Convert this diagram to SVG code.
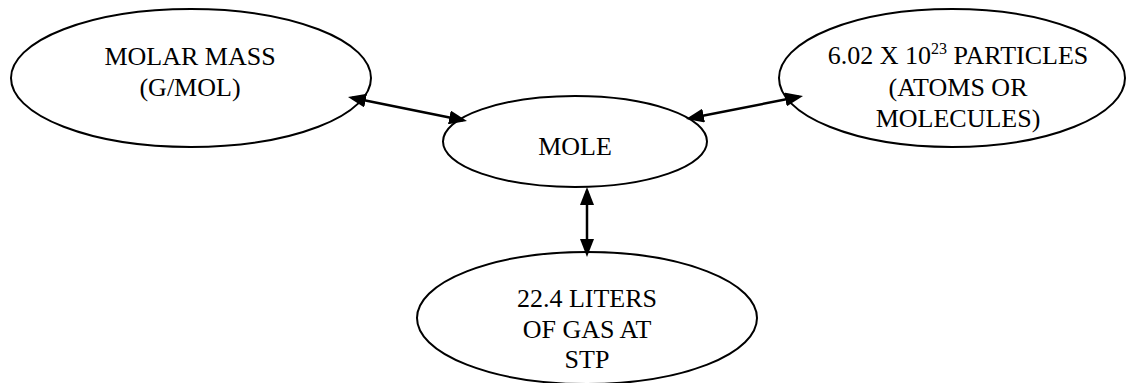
<svg xmlns="http://www.w3.org/2000/svg" width="1127" height="383" viewBox="0 0 1127 383">
<style>
.node ellipse{fill:#fff;stroke:#000;stroke-width:2}
.node text{font-size:26px;fill:#000;text-anchor:middle}
.sup{font-size:16px}
#connectors line{stroke:#000;stroke-width:2.5;fill:none;marker-start:url(#ah);marker-end:url(#ah)}
</style>
<defs>
<marker id="ah" viewBox="0 0 18 14" refX="14" refY="7" markerWidth="18" markerHeight="14" markerUnits="userSpaceOnUse" orient="auto-start-reverse">
<path d="M0,0 L18,7 L0,14 Z" fill="#000"/>
</marker>
</defs>
<rect width="1127" height="383" fill="#fff"/>
<g font-family="'Liberation Serif', 'Times New Roman', Times, 'DejaVu Serif', serif">
<g id="molar-mass" class="node">
<ellipse cx="191" cy="78" rx="180" ry="69"/>
<text x="190" y="65">MOLAR MASS</text>
<text x="190" y="96">(G/MOL)</text>
</g>
<g id="mole" class="node">
<ellipse cx="575" cy="141.5" rx="132" ry="45.5"/>
<text x="575" y="155">MOLE</text>
</g>
<g id="particles" class="node">
<ellipse cx="952" cy="78" rx="173" ry="69"/>
<text x="958" y="64">6.02 X 10<tspan class="sup" dy="-10">23</tspan><tspan dy="10"> PARTICLES</tspan></text>
<text x="958" y="96">(ATOMS OR</text>
<text x="958" y="127">MOLECULES)</text>
</g>
<g id="liters" class="node">
<ellipse cx="587" cy="318" rx="170" ry="66"/>
<text x="587" y="307">22.4 LITERS</text>
<text x="587" y="338">OF GAS AT</text>
<text x="587" y="368">STP</text>
</g>
</g>
<g id="connectors">
<line x1="351.9" y1="97.8" x2="463.1" y2="120.2"/>
<line x1="689.9" y1="118.2" x2="799.1" y2="96.8"/>
<line x1="587" y1="191" x2="587" y2="253"/>
</g>
</svg>
